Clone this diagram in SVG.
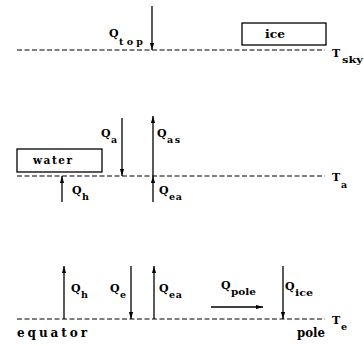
<svg xmlns="http://www.w3.org/2000/svg" width="364" height="346" viewBox="0 0 364 346">
<style>
.lvl{stroke:#000;stroke-width:1.2;stroke-dasharray:5 2.5;fill:none}
.ar{stroke:#000;stroke-width:1.3;fill:none}
.box{stroke:#000;stroke-width:1.3;fill:#fff}
text{font-family:"DejaVu Serif","Liberation Serif",serif;font-weight:bold;fill:#000}
.q{font-size:11px}
.s{font-size:9.5px}
.w{font-size:10.5px}
.b{font-size:12px}
</style>
<defs>
<marker id="ah" viewBox="0 0 10 6" refX="10" refY="3" markerWidth="7" markerHeight="4.5" markerUnits="userSpaceOnUse" orient="auto">
<path d="M0,0 L10,3 L0,6 Z" fill="#000"/>
</marker>
</defs>
<g id="levels">
<line class="lvl" x1="17" y1="50" x2="325" y2="50"/>
<line class="lvl" x1="17" y1="176" x2="325" y2="176"/>
<line class="lvl" x1="17" y1="319" x2="325" y2="319"/>
</g>
<g id="connectors">
<line class="ar" x1="152" y1="6" x2="152" y2="50" marker-end="url(#ah)"/>
<line class="ar" x1="122" y1="118" x2="122" y2="176" marker-end="url(#ah)"/>
<line class="ar" x1="153" y1="176" x2="153" y2="116" marker-end="url(#ah)"/>
<line class="ar" x1="153" y1="202" x2="153" y2="176" marker-end="url(#ah)"/>
<line class="ar" x1="62" y1="202" x2="62" y2="176" marker-end="url(#ah)"/>
<line class="ar" x1="64" y1="319" x2="64" y2="266" marker-end="url(#ah)"/>
<line class="ar" x1="131" y1="266" x2="131" y2="319" marker-end="url(#ah)"/>
<line class="ar" x1="154" y1="319" x2="154" y2="266" marker-end="url(#ah)"/>
<line class="ar" x1="211" y1="307" x2="263" y2="307" marker-end="url(#ah)"/>
<line class="ar" x1="283" y1="266" x2="283" y2="319" marker-end="url(#ah)"/>
</g>
<g id="ice">
<rect class="box" x="242" y="23" width="84" height="22"/>
<text class="w" x="265" y="38" textLength="20" lengthAdjust="spacingAndGlyphs">ice</text>
</g>
<g id="water">
<rect class="box" x="17" y="149" width="85" height="23"/>
<text class="w" x="33" y="164" textLength="39" lengthAdjust="spacing">water</text>
</g>
<g id="labels">
<text class="q" x="109" y="37">Q</text><text class="s" x="119" y="45" textLength="24" lengthAdjust="spacing">top</text>
<text class="q" x="332" y="57">T</text><text class="s" x="342" y="63" textLength="21" lengthAdjust="spacingAndGlyphs">sky</text>
<text class="q" x="101" y="137">Q</text><text class="s" x="111" y="143">a</text>
<text class="q" x="157" y="137">Q</text><text class="s" x="167" y="143" textLength="13" lengthAdjust="spacing">as</text>
<text class="q" x="332" y="181">T</text><text class="s" x="341" y="188">a</text>
<text class="q" x="72" y="194">Q</text><text class="s" x="82" y="200">h</text>
<text class="q" x="159" y="194">Q</text><text class="s" x="169" y="200" textLength="13" lengthAdjust="spacing">ea</text>
<text class="q" x="71" y="292">Q</text><text class="s" x="81" y="298">h</text>
<text class="q" x="110" y="292">Q</text><text class="s" x="120" y="298">e</text>
<text class="q" x="159" y="292">Q</text><text class="s" x="169" y="298" textLength="13" lengthAdjust="spacing">ea</text>
<text class="q" x="221" y="289">Q</text><text class="s" x="231" y="295" textLength="25" lengthAdjust="spacingAndGlyphs">pole</text>
<text class="q" x="285" y="290">Q</text><text class="s" x="295" y="296" textLength="18" lengthAdjust="spacingAndGlyphs">ice</text>
<text class="q" x="332" y="324">T</text><text class="s" x="341" y="330">e</text>
<text class="b" x="17" y="337" textLength="70" lengthAdjust="spacing">equator</text>
<text class="b" x="297" y="337" textLength="28" lengthAdjust="spacingAndGlyphs">pole</text>
</g>
</svg>
